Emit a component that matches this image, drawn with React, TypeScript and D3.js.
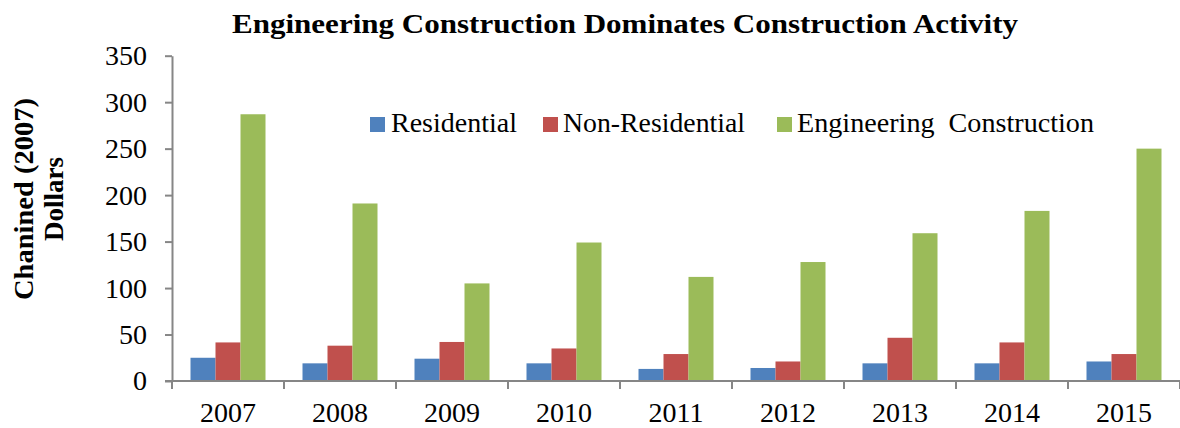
import React, {useEffect, useRef} from "react";
import * as d3 from "d3";

// chart values
const years = ["2007", "2008", "2009", "2010", "2011", "2012", "2013", "2014", "2015"];
const residential = [25, 19, 24, 19, 13, 14, 19, 19, 21];
const nonResidential = [41.5, 38, 42, 35, 29, 21, 46.5, 41.5, 29];
const engineering = [287, 191, 105, 149, 112, 128, 159, 183, 250];
const seriesNames = ["Residential", "Non-Residential", "Engineering  Construction"];
const seriesColors = ["#4F81BD", "#C0504D", "#9BBB59"];
const yTicks = [0, 50, 100, 150, 200, 250, 300, 350];

const width = 1180, height = 428;
const font = "'Liberation Serif', 'Times New Roman', serif";

function App() {
    const ref = useRef(null);

    useEffect(() => {
        const svg = d3.select(ref.current);
        svg.selectAll("*").remove();

        const left = 172, right = 1180, top = 55.7, bottom = 381;

        const x = d3.scaleBand().domain(years).range([left, right]);
        const inner = d3.scaleBand().domain(seriesNames).range([0, x.bandwidth()])
            .paddingOuter(0.74).paddingInner(0);
        const y = d3.scaleLinear().domain([0, 350]).range([bottom, top]);

        const series = [residential, nonResidential, engineering];

        // bars
        const groups = svg.append("g")
            .selectAll("g")
            .data(years)
            .join("g")
            .attr("transform", d => `translate(${x(d)},0)`);

        groups.selectAll("rect")
            .data((d, i) => series.map((s, k) => ({name: seriesNames[k], value: s[i], color: seriesColors[k]})))
            .join("rect")
            .attr("x", d => inner(d.name))
            .attr("width", inner.bandwidth())
            .attr("y", d => y(d.value))
            .attr("height", d => y(0) - y(d.value))
            .attr("fill", d => d.color);

        // y axis
        const yAxis = svg.append("g")
            .attr("transform", `translate(${left},0)`)
            .call(d3.axisLeft(y).tickValues(yTicks).tickSize(7).tickPadding(18).tickSizeOuter(0));
        yAxis.select(".domain").attr("stroke", "#868686").attr("stroke-width", 2);
        yAxis.selectAll(".tick line").attr("stroke", "#868686").attr("stroke-width", 2);
        yAxis.selectAll("text")
            .attr("font-family", font)
            .attr("font-size", 28)
            .attr("fill", "#000");

        // x axis
        const xAxis = svg.append("g")
            .attr("transform", `translate(0,${bottom})`)
            .call(d3.axisBottom(x).tickSize(0));
        xAxis.select(".domain").remove();
        xAxis.append("line")
            .attr("x1", left - 7).attr("x2", right)
            .attr("stroke", "#868686").attr("stroke-width", 2);
        xAxis.selectAll(".bound")
            .data(years.map(d => x(d)).concat([right]))
            .join("line")
            .attr("x1", d => d).attr("x2", d => d)
            .attr("y1", 0).attr("y2", 8)
            .attr("stroke", "#868686").attr("stroke-width", 2);
        xAxis.selectAll("text")
            .attr("y", 41)
            .attr("dy", 0)
            .attr("font-family", font)
            .attr("font-size", 28)
            .attr("fill", "#000");

        // title
        svg.append("text")
            .attr("x", 232)
            .attr("y", 33)
            .attr("font-family", font)
            .attr("font-weight", "bold")
            .attr("font-size", 27)
            .attr("textLength", 786)
            .attr("lengthAdjust", "spacingAndGlyphs")
            .text("Engineering Construction Dominates Construction Activity");

        // y axis title
        const yTitle = svg.append("text")
            .attr("transform", "translate(40,199) rotate(-90)")
            .attr("text-anchor", "middle")
            .attr("font-family", font)
            .attr("font-weight", "bold")
            .attr("font-size", 27);
        yTitle.append("tspan").attr("x", 0).attr("y", -7)
            .attr("textLength", 202).attr("lengthAdjust", "spacingAndGlyphs")
            .text("Chanined (2007)");
        yTitle.append("tspan").attr("x", 0).attr("y", 23).text("Dollars");

        // legend
        const legendX = [370, 543, 777];
        const legendW = [126, 182, 297];
        const legend = svg.append("g")
            .selectAll("g")
            .data(seriesNames)
            .join("g")
            .attr("transform", (d, i) => `translate(${legendX[i]},117)`);
        legend.append("rect")
            .attr("width", 15).attr("height", 15)
            .attr("fill", (d, i) => seriesColors[i]);
        legend.append("text")
            .attr("x", (d, i) => i === 0 ? 21 : 20).attr("y", 15)
            .attr("font-family", font)
            .attr("font-size", 28)
            .attr("textLength", (d, i) => legendW[i])
            .attr("lengthAdjust", "spacingAndGlyphs")
            .style("white-space", "pre")
            .text(d => d);
    }, []);

    return (
        <svg ref={ref} width={width} height={height}
             style={{position: "absolute", left: 0, top: 0, background: "#fff"}} />
    );
}

export default App;
